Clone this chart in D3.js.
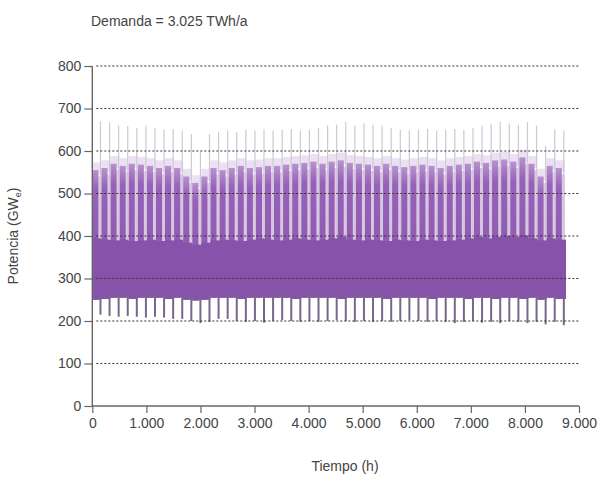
<!DOCTYPE html>
<html lang="es">
<head>
<meta charset="utf-8">
<title>Demanda</title>
<script src="https://d3js.org/d3.v7.min.js"></script>
<style>
  body { margin: 0; background: #fff; }
  text { font-family: "Liberation Sans", Arial, sans-serif; fill: #444; }
</style>
</head>
<body>
<div id="chart"></div>
<script>
// weekly readings of the hourly curve (GW), one value per week of the year
var weekHours = 168;
var peak = [670, 668, 660, 658, 655, 660, 655, 650, 652, 648,
            640, 598, 640, 645, 648, 645, 650, 648, 652, 648,
            650, 652, 648, 650, 655, 660, 662, 668, 660, 665,
            662, 660, 655, 650, 648, 650, 652, 648, 650, 652,
            650, 655, 660, 664, 668, 665, 662, 668, 660, 612,
            650, 648];
var high = [555, 560, 570, 565, 570, 568, 565, 560, 565, 560,
            540, 525, 540, 560, 555, 560, 565, 560, 562, 565,
            565, 568, 570, 572, 575, 570, 575, 578, 572, 570,
            568, 565, 570, 565, 562, 565, 568, 565, 560, 565,
            568, 570, 575, 572, 578, 580, 575, 585, 570, 540,
            565, 560];
var bandTop = [395, 392, 390, 392, 388, 390, 392, 388, 390, 392,
               385, 380, 385, 390, 392, 390, 388, 392, 395, 392,
               390, 392, 395, 392, 390, 392, 395, 398, 392, 390,
               392, 390, 388, 392, 390, 388, 392, 390, 388, 390,
               392, 395, 398, 395, 398, 400, 398, 402, 395, 390,
               395, 392];
var bandBottom = [250, 252, 255, 255, 252, 255, 255, 255, 252, 255,
                  250, 248, 250, 255, 255, 255, 252, 255, 255, 255,
                  255, 255, 252, 255, 255, 255, 255, 252, 255, 255,
                  255, 255, 252, 255, 255, 255, 255, 252, 255, 255,
                  255, 252, 255, 255, 252, 255, 255, 252, 255, 250,
                  255, 252];
var floor = [215, 212, 210, 212, 210, 208, 210, 208, 205, 205,
             200, 195, 198, 205, 205, 200, 198, 200, 196, 200,
             202, 200, 198, 200, 198, 200, 202, 200, 198, 200,
             198, 200, 198, 200, 202, 200, 198, 200, 198, 195,
             198, 200, 196, 198, 195, 200, 198, 195, 198, 192,
             198, 190];
var yTicks = [0, 100, 200, 300, 400, 500, 600, 700, 800];
var xTicks = [0, 1000, 2000, 3000, 4000, 5000, 6000, 7000, 8000, 9000];

var weeks = peak.map(function(p, i) {
  return {i: i, peak: p, high: high[i], top: bandTop[i], bottom: bandBottom[i], floor: floor[i]};
});

var W = 601, H = 489;
var svg = d3.select("#chart").append("svg").attr("width", W).attr("height", H);

var x = d3.scaleLinear().domain([0, 9000]).range([92.3, 579]);
var y = d3.scaleLinear().domain([0, 800]).range([406, 66]);
var ww = x(weekHours) - x(0);

var gradient = svg.append("defs").append("linearGradient")
  .attr("id", "fade").attr("x1", 0).attr("y1", 1).attr("x2", 0).attr("y2", 0);
gradient.append("stop").attr("offset", "0%").attr("stop-color", "#8b57ae");
gradient.append("stop").attr("offset", "85%").attr("stop-color", "#9562b7");
gradient.append("stop").attr("offset", "100%").attr("stop-color", "#b892cf");

var plot = svg.append("g");

// faint halo above the weekday tops
plot.selectAll("rect.halo").data(weeks).enter().append("rect")
  .attr("class", "halo")
  .attr("x", d => x(d.i * weekHours))
  .attr("width", ww)
  .attr("y", d => y(d.high + 18))
  .attr("height", d => y(d.high - 10) - y(d.high + 18))
  .attr("fill", "#ebdff2");

// weekend stripes
plot.selectAll("rect.weekend").data(weeks).enter().append("rect")
  .attr("class", "weekend")
  .attr("x", d => x(d.i * weekHours) + 0.66 * ww)
  .attr("width", 0.34 * ww)
  .attr("y", d => y(d.high - 15))
  .attr("height", d => y(d.top) - y(d.high - 15))
  .attr("fill", "#dfc6ec");

// weekday blocks
plot.selectAll("rect.weekday").data(weeks).enter().append("rect")
  .attr("class", "weekday")
  .attr("x", d => x(d.i * weekHours))
  .attr("width", 0.68 * ww)
  .attr("y", d => y(d.high))
  .attr("height", d => y(d.bottom) - y(d.high))
  .attr("fill", "url(#fade)");

// continuous base band
var band = d3.area()
  .curve(d3.curveStepAfter)
  .x(d => x(d.i * weekHours))
  .y0(d => y(d.bottom))
  .y1(d => y(d.top));
var bandData = weeks.concat([Object.assign({}, weeks[weeks.length - 1], {i: 8760 / weekHours})]);
plot.append("path").datum(bandData)
  .attr("d", band)
  .attr("fill", "#8753aa");

// weekly extremes: tall pale spikes and dark lower teeth
plot.selectAll("line.spike").data(weeks).enter().append("line")
  .attr("class", "spike")
  .attr("x1", d => x(d.i * weekHours) + 0.9 * ww)
  .attr("x2", d => x(d.i * weekHours) + 0.9 * ww)
  .attr("y1", d => y(d.top))
  .attr("y2", d => y(d.peak))
  .attr("stroke", "#cdc8d4")
  .attr("stroke-width", 1.2);

plot.selectAll("line.tooth").data(weeks).enter().append("line")
  .attr("class", "tooth")
  .attr("x1", d => x(d.i * weekHours) + 0.9 * ww)
  .attr("x2", d => x(d.i * weekHours) + 0.9 * ww)
  .attr("y1", d => y(d.bottom + 10))
  .attr("y2", d => y(d.floor))
  .attr("stroke", "#76688a")
  .attr("stroke-width", 2);

// dotted gridlines over the data
svg.append("g").selectAll("line").data(yTicks.filter(v => v > 0)).enter().append("line")
  .attr("x1", x(0) + 4).attr("x2", x(9000) + 1)
  .attr("y1", d => y(d)).attr("y2", d => y(d))
  .attr("stroke", "#333").attr("stroke-width", 1)
  .attr("stroke-dasharray", "2,2");

// axes
var yAxis = d3.axisLeft(y).tickValues(yTicks).tickSize(8).tickPadding(3);
var xAxis = d3.axisBottom(x).tickValues(xTicks).tickSize(7).tickPadding(5)
  .tickFormat(d => d3.format(",")(d).replace(/,/g, "."));

var gy = svg.append("g").attr("transform", "translate(" + x(0) + ",0)").call(yAxis);
var gx = svg.append("g").attr("transform", "translate(0," + y(0) + ")").call(xAxis);
[gy, gx].forEach(function(g) {
  g.select(".domain").attr("stroke", "#666").attr("stroke-width", 1.4);
  g.selectAll(".tick line").attr("stroke", "#666").attr("stroke-width", 1.2);
  g.selectAll(".tick text").attr("font-size", 14).attr("fill", "#555")
    .style("font-family", "'Liberation Sans', Arial, sans-serif");
});
gx.select(".domain").attr("d", "M" + x(0) + ",0H" + x(9000));
gy.select(".domain").attr("d", "M0," + y(0) + "V" + y(800));

// titles
svg.append("text").attr("x", 91).attr("y", 26).attr("font-size", 14)
  .text("Demanda = 3.025 TWh/a");

svg.append("text").attr("x", 345).attr("y", 471).attr("font-size", 14)
  .attr("text-anchor", "middle").text("Tiempo (h)");

var yl = svg.append("text")
  .attr("transform", "translate(18,236) rotate(-90)")
  .attr("text-anchor", "middle").attr("font-size", 14);
yl.append("tspan").text("Potencia (GW");
yl.append("tspan").attr("font-size", 9).attr("dy", 3).text("e");
yl.append("tspan").attr("dy", -3).text(")");
</script>
</body>
</html>
